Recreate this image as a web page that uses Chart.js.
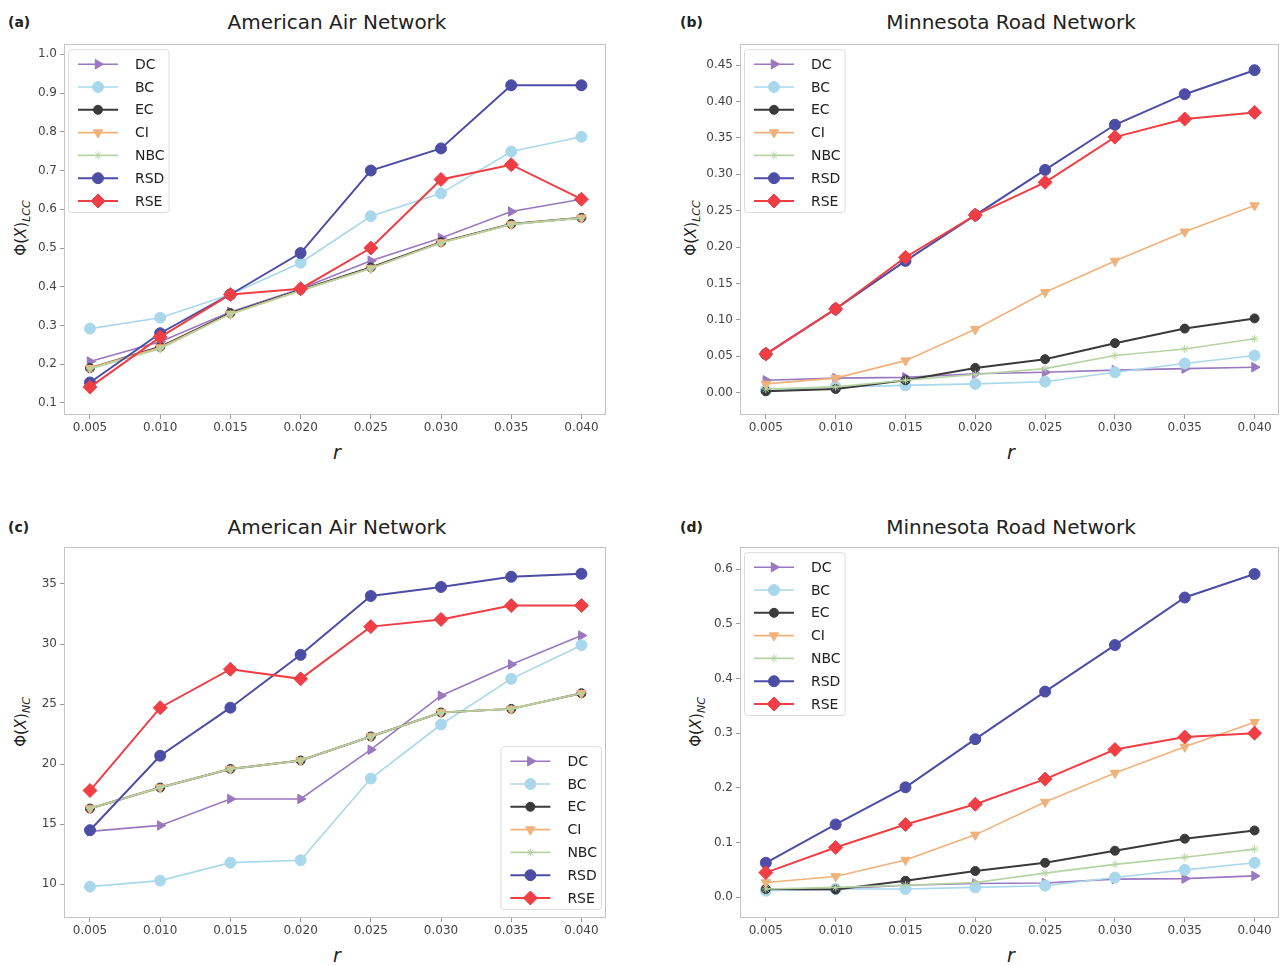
<!DOCTYPE html>
<html>
<head>
<meta charset="utf-8">
<script src="https://cdn.jsdelivr.net/npm/chart.js@4.4.1/dist/chart.umd.min.js"></script>
<style>
  body { margin: 0; background: #fff; width: 1287px; height: 966px; position: relative; overflow: hidden; font-family: "DejaVu Sans", sans-serif; color: #222; }
  canvas { position: absolute; }
  .title { position: absolute; font-size: 20px; transform: translate(-50%, -50%); white-space: nowrap; color: #222; }
  .letter { position: absolute; font-size: 14px; font-weight: bold; transform: translateY(-50%); }
  .xlab { position: absolute; font-size: 19px; font-style: italic; transform: translate(-50%, -50%); }
  .ylab { position: absolute; font-size: 15px; white-space: nowrap; transform: translate(-50%, -50%) rotate(-90deg); }
  .ylab sub { font-size: 11px; font-style: italic; }
</style>
</head>
<body>
<div class="letter" style="left:8px; top:22px;">(a)</div>
<div class="letter" style="left:680px; top:22px;">(b)</div>
<div class="letter" style="left:8px; top:527px;">(c)</div>
<div class="letter" style="left:680px; top:527px;">(d)</div>

<div class="title" style="left:337px; top:22px;">American Air Network</div>
<div class="title" style="left:1011px; top:22px;">Minnesota Road Network</div>
<div class="title" style="left:337px; top:527px;">American Air Network</div>
<div class="title" style="left:1011px; top:527px;">Minnesota Road Network</div>

<div class="ylab" style="left:22px; top:228px;">Φ(<i>X</i>)<sub>LCC</sub></div>
<div class="ylab" style="left:692px; top:228px;">Φ(<i>X</i>)<sub>LCC</sub></div>
<div class="ylab" style="left:22px; top:722px;">Φ(<i>X</i>)<sub>NC</sub></div>
<div class="ylab" style="left:697px; top:722px;">Φ(<i>X</i>)<sub>NC</sub></div>

<div class="xlab" style="left:337px; top:452px;">r</div>
<div class="xlab" style="left:1011px; top:452px;">r</div>
<div class="xlab" style="left:337px; top:955px;">r</div>
<div class="xlab" style="left:1011px; top:955px;">r</div>

<canvas id="chartA"></canvas>
<canvas id="chartB"></canvas>
<canvas id="chartC"></canvas>
<canvas id="chartD"></canvas>

<script>
// x values (attack ratio r) shared by every panel
const rValues = [0.005, 0.010, 0.015, 0.020, 0.025, 0.030, 0.035, 0.040];

// (a) American Air Network, LCC
const airLccDC  = [0.207, 0.258, 0.335, 0.395, 0.467, 0.526, 0.594, 0.626];
const airLccBC  = [0.292, 0.320, 0.380, 0.462, 0.582, 0.641, 0.749, 0.787];
const airLccEC  = [0.190, 0.245, 0.332, 0.392, 0.450, 0.515, 0.562, 0.578];
const airLccCI  = [0.190, 0.243, 0.330, 0.390, 0.448, 0.514, 0.561, 0.578];
const airLccNBC = [0.188, 0.240, 0.330, 0.390, 0.447, 0.513, 0.561, 0.577];
const airLccRSD = [0.153, 0.280, 0.380, 0.487, 0.700, 0.757, 0.920, 0.920];
const airLccRSE = [0.141, 0.270, 0.380, 0.395, 0.500, 0.677, 0.715, 0.626];

// (b) Minnesota Road Network, LCC
const roadLccDC  = [0.017, 0.020, 0.021, 0.026, 0.028, 0.031, 0.033, 0.035];
const roadLccBC  = [0.003, 0.008, 0.010, 0.012, 0.015, 0.028, 0.040, 0.051];
const roadLccEC  = [0.002, 0.005, 0.017, 0.034, 0.046, 0.068, 0.088, 0.102];
const roadLccCI  = [0.012, 0.020, 0.044, 0.087, 0.138, 0.181, 0.221, 0.257];
const roadLccNBC = [0.005, 0.008, 0.017, 0.025, 0.033, 0.051, 0.060, 0.074];
const roadLccRSD = [0.053, 0.115, 0.181, 0.244, 0.306, 0.368, 0.410, 0.443];
const roadLccRSE = [0.053, 0.115, 0.186, 0.244, 0.289, 0.351, 0.376, 0.385];

// (c) American Air Network, NC
const airNcDC  = [14.4, 14.9, 17.1, 17.1, 21.2, 25.7, 28.3, 30.7];
const airNcBC  = [9.8, 10.3, 11.8, 12.0, 18.8, 23.3, 27.1, 29.9];
const airNcEC  = [16.3, 18.05, 19.6, 20.3, 22.3, 24.3, 24.6, 25.9];
const airNcCI  = [16.3, 18.05, 19.6, 20.3, 22.3, 24.3, 24.6, 25.9];
const airNcNBC = [16.3, 18.05, 19.6, 20.3, 22.3, 24.3, 24.6, 25.9];
const airNcRSD = [14.5, 20.7, 24.7, 29.1, 34.0, 34.75, 35.6, 35.85];
const airNcRSE = [17.8, 24.7, 27.9, 27.1, 31.45, 32.05, 33.2, 33.2];

// (d) Minnesota Road Network, NC
const roadNcDC  = [0.013, 0.015, 0.022, 0.025, 0.026, 0.033, 0.034, 0.039];
const roadNcBC  = [0.012, 0.015, 0.015, 0.018, 0.021, 0.036, 0.050, 0.063];
const roadNcEC  = [0.015, 0.014, 0.030, 0.048, 0.063, 0.085, 0.107, 0.122];
const roadNcCI  = [0.027, 0.038, 0.068, 0.114, 0.174, 0.227, 0.275, 0.320];
const roadNcNBC = [0.015, 0.018, 0.022, 0.027, 0.044, 0.060, 0.073, 0.088];
const roadNcRSD = [0.063, 0.133, 0.201, 0.289, 0.376, 0.461, 0.548, 0.591];
const roadNcRSE = [0.045, 0.091, 0.133, 0.170, 0.216, 0.270, 0.293, 0.300];

// tick labels
const xTicks = [0.005, 0.010, 0.015, 0.020, 0.025, 0.030, 0.035, 0.040];
const yTicksA = [0.1, 0.2, 0.3, 0.4, 0.5, 0.6, 0.7, 0.8, 0.9, 1.0];
const yTicksB = [0.00, 0.05, 0.10, 0.15, 0.20, 0.25, 0.30, 0.35, 0.40, 0.45];
const yTicksC = [10, 15, 20, 25, 30, 35];
const yTicksD = [0.0, 0.1, 0.2, 0.3, 0.4, 0.5, 0.6];

// series styling
const methodNames = ['DC', 'BC', 'EC', 'CI', 'NBC', 'RSD', 'RSE'];
const methodColors = ['#9a78c0', '#a9d8ec', '#3a3a3a', '#f0b27a', '#b6d3a2', '#4d4da6', '#ef3f45'];
const markerStyles = ['triangle', 'circle', 'circle', 'triangle', 'star', 'circle', 'rectRot'];
const markerRotations = [90, 0, 0, 180, 0, 0, 0];
const markerSizes = [5.5, 5.5, 4.5, 5.5, 4, 5.5, 7];
const lineWidths = [1.6, 1.6, 2, 1.6, 1.6, 2, 2];

const FONT = '"DejaVu Sans", sans-serif';

const framePlugin = {
    id: 'frameAndLegend',
    afterDatasetsDraw(chart, args, opts) {
        const ctx = chart.ctx;
        const area = chart.chartArea;
        ctx.save();
        ctx.strokeStyle = '#c4c4c4';
        ctx.lineWidth = 1;
        ctx.strokeRect(Math.round(area.left) + 0.5, Math.round(area.top) + 0.5,
            Math.round(area.right - area.left) - 1, Math.round(area.bottom - area.top) - 1);

        // matplotlib style legend: line + marker + label
        const sets = chart.data.datasets;
        const rowH = 22.8;
        ctx.font = '14px ' + FONT;
        const maxW = Math.max(...sets.map(d => ctx.measureText(d.label).width));
        const w = 67 + maxW + 4;
        const h = 15 + (sets.length - 1) * rowH + 11;
        let x0, y0;
        if (opts.corner === 'br') {
            x0 = area.right - 5 - w;
            y0 = area.bottom - 9 - h;
        } else {
            x0 = area.left + 4;
            y0 = area.top + 5;
        }
        ctx.fillStyle = 'rgba(255,255,255,0.85)';
        ctx.strokeStyle = '#dcdcdc';
        ctx.beginPath();
        ctx.roundRect(x0 + 0.5, y0 + 0.5, w, h, 3);
        ctx.fill();
        ctx.stroke();

        sets.forEach((d, i) => {
            const y = y0 + 15 + i * rowH;
            ctx.strokeStyle = d.borderColor;
            ctx.lineWidth = d.borderWidth;
            ctx.beginPath();
            ctx.moveTo(x0 + 10, y);
            ctx.lineTo(x0 + 50, y);
            ctx.stroke();
            ctx.fillStyle = d.pointBackgroundColor;
            ctx.strokeStyle = d.pointBorderColor;
            ctx.lineWidth = d.pointBorderWidth;
            Chart.helpers.drawPoint(ctx, {
                pointStyle: d.pointStyle, rotation: d.pointRotation,
                radius: d.pointRadius, borderWidth: d.pointBorderWidth
            }, x0 + 30, y);
            ctx.fillStyle = '#222';
            ctx.textBaseline = 'middle';
            ctx.textAlign = 'left';
            ctx.fillText(d.label, x0 + 67, y + 1);
        });
        ctx.restore();
    }
};

function buildDatasets(seriesList) {
    return seriesList.map((values, i) => ({
        label: methodNames[i],
        data: values.map((v, k) => ({ x: rValues[k], y: v })),
        borderColor: methodColors[i],
        backgroundColor: methodColors[i],
        pointBackgroundColor: methodColors[i],
        pointBorderColor: methodColors[i],
        pointBorderWidth: 1,
        borderWidth: lineWidths[i],
        pointStyle: markerStyles[i],
        pointRotation: markerRotations[i],
        pointRadius: markerSizes[i],
        tension: 0,
        order: seriesList.length - 1 - i
    }));
}

function makeChart(canvasId, box, seriesList, yMin, yMax, yTicks, yDecimals, corner) {
    const yAxisW = box.yAxisW;
    const canvas = document.getElementById(canvasId);
    const left = box.left - yAxisW;
    const top = box.top - 8;
    const width = box.right - left + 4;
    const height = box.bottom - top + 26;
    canvas.width = width;
    canvas.height = height;
    canvas.style.left = left + 'px';
    canvas.style.top = top + 'px';
    canvas.style.width = width + 'px';
    canvas.style.height = height + 'px';

    const tickStyle = { color: '#444', font: { family: FONT, size: 12 } };
    return new Chart(canvas.getContext('2d'), {
        type: 'line',
        data: { datasets: buildDatasets(seriesList) },
        options: {
            responsive: false,
            animation: false,
            devicePixelRatio: 1,
            layout: { padding: { top: 8, right: 4, left: 0, bottom: 0 } },
            plugins: {
                legend: { display: false },
                tooltip: { enabled: false },
                frameAndLegend: { corner: corner }
            },
            scales: {
                x: {
                    type: 'linear',
                    min: 0.00315,
                    max: 0.04175,
                    afterBuildTicks: scale => { scale.ticks = xTicks.map(v => ({ value: v })); },
                    afterFit: scale => { scale.height = 26; },
                    ticks: { ...tickStyle, padding: 2, maxRotation: 0, callback: v => v.toFixed(3) },
                    grid: { drawOnChartArea: false, drawTicks: true, tickLength: 4, color: '#999' },
                    border: { display: false }
                },
                y: {
                    min: yMin,
                    max: yMax,
                    afterBuildTicks: scale => { scale.ticks = yTicks.map(v => ({ value: v })); },
                    afterFit: scale => { scale.width = yAxisW; },
                    ticks: { ...tickStyle, padding: 3, callback: v => v.toFixed(yDecimals) },
                    grid: { drawOnChartArea: false, drawTicks: true, tickLength: 4, color: '#999' },
                    border: { display: false }
                }
            }
        },
        plugins: [framePlugin]
    });
}

makeChart('chartA', { left: 64, right: 610, top: 42, bottom: 415, yAxisW: 64 },
    [airLccDC, airLccBC, airLccEC, airLccCI, airLccNBC, airLccRSD, airLccRSE],
    0.069, 1.026, yTicksA, 1, 'tl');

makeChart('chartB', { left: 740, right: 1283, top: 42, bottom: 415, yAxisW: 50 },
    [roadLccDC, roadLccBC, roadLccEC, roadLccCI, roadLccNBC, roadLccRSD, roadLccRSE],
    -0.0307, 0.4787, yTicksB, 2, 'tl');

makeChart('chartC', { left: 64, right: 610, top: 545, bottom: 918, yAxisW: 64 },
    [airNcDC, airNcBC, airNcEC, airNcCI, airNcNBC, airNcRSD, airNcRSE],
    7.19, 38.06, yTicksC, 0, 'br');

makeChart('chartD', { left: 740, right: 1283, top: 545, bottom: 918, yAxisW: 50 },
    [roadNcDC, roadNcBC, roadNcEC, roadNcCI, roadNcNBC, roadNcRSD, roadNcRSE],
    -0.038, 0.64, yTicksD, 1, 'tl');
</script>
</body>
</html>
